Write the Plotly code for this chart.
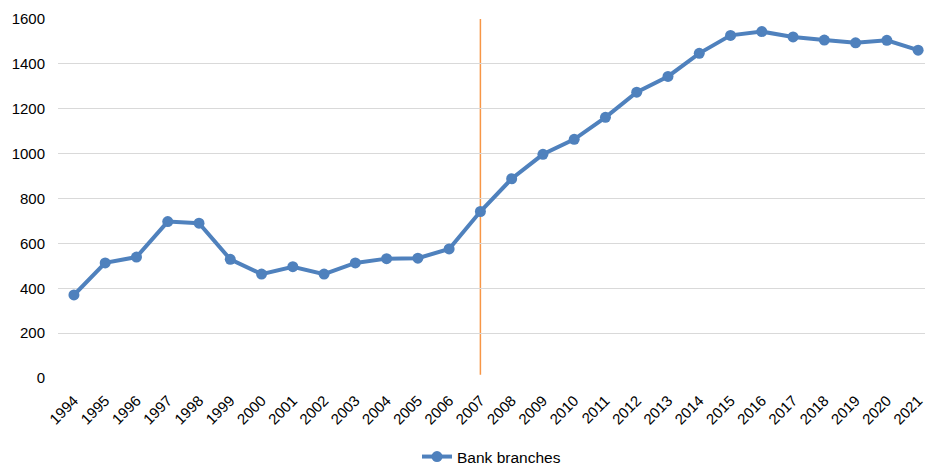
import plotly.graph_objects as go

years = list(range(1994, 2022))
branches = [370, 513, 539, 697, 690, 529, 463, 496, 463, 513, 532, 534, 575, 742,
            888, 997, 1064, 1162, 1274, 1344, 1447, 1527, 1544, 1520, 1506, 1494, 1505, 1461]
marker_year = 2007
y_ticks = [0, 200, 400, 600, 800, 1000, 1200, 1400, 1600]

fig = go.Figure()
fig.add_trace(go.Scatter(
    x=years, y=branches, mode="lines+markers", name="Bank branches",
    line=dict(color="#4F81BD", width=4),
    marker=dict(color="#4F81BD", size=11),
))

fig.add_shape(type="line", xref="x", yref="y", x0=marker_year, x1=marker_year,
              y0=15, y1=1600, line=dict(color="#F79646", width=1.5), layer="below")

fig.update_layout(
    width=925, height=465,
    margin=dict(l=58, r=0, t=19, b=87, autoexpand=False),
    paper_bgcolor="white", plot_bgcolor="white",
    font=dict(family="Liberation Sans, Arial, sans-serif", size=14, color="#000000"),
    showlegend=True,
    legend=dict(orientation="h", x=0.5, xanchor="center", y=-0.22, yanchor="middle",
                font=dict(size=15.5)),
    xaxis=dict(
        range=[1993.49, 2021.22], tickmode="array", tickvals=years,
        ticktext=[str(y) for y in years], tickangle=-45, showgrid=False,
        zeroline=False, showline=False, tickfont=dict(size=15),
        ticks="outside", ticklen=7, tickcolor="rgba(0,0,0,0)",
        automargin=False, ticklabeloverflow="allow",
    ),
    yaxis=dict(
        range=[0, 1600], tickmode="array", tickvals=y_ticks,
        showgrid=True, gridcolor="#D9D9D9", gridwidth=1, zeroline=False,
        showline=False, ticks="", tickfont=dict(size=15), ticklabelstandoff=12,
        automargin=False,
    ),
)

fig.write_html("out.html")
